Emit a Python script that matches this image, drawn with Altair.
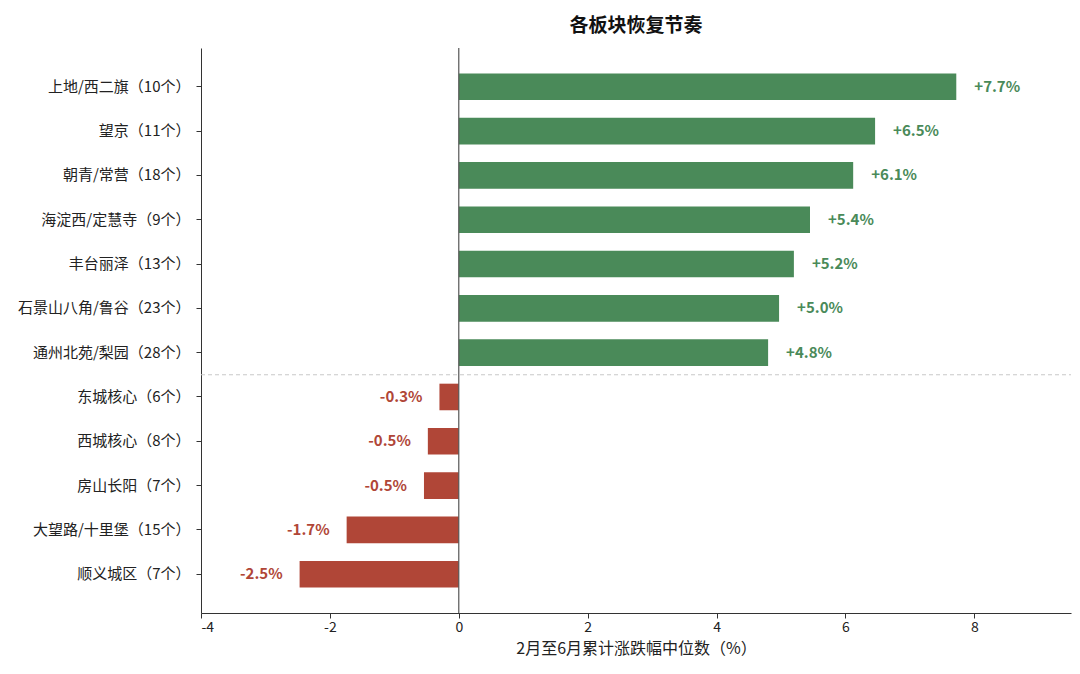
import altair as alt
import pandas as pd

categories = [
    "上地/西二旗（10个）", "望京（11个）", "朝青/常营（18个）", "海淀西/定慧寺（9个）",
    "丰台丽泽（13个）", "石景山八角/鲁谷（23个）", "通州北苑/梨园（28个）",
    "东城核心（6个）", "西城核心（8个）", "房山长阳（7个）", "大望路/十里堡（15个）", "顺义城区（7个）",
]
values = [7.72, 6.46, 6.12, 5.45, 5.2, 4.97, 4.8, -0.3, -0.48, -0.54, -1.74, -2.47]
labels = ["+7.7%", "+6.5%", "+6.1%", "+5.4%", "+5.2%", "+5.0%", "+4.8%",
          "-0.3%", "-0.5%", "-0.5%", "-1.7%", "-2.5%"]
x_ticks = [-4, -2, 0, 2, 4, 6, 8]

GREEN = "#4a8a59"
RED = "#b04637"
FONT = "Noto Sans CJK SC"

df = pd.DataFrame({"cat": categories, "val": values, "lab": labels})
df["sign"] = ["pos" if v >= 0 else "neg" for v in values]

yscale = alt.Scale(domain=categories, paddingInner=0.4, paddingOuter=0.575)
xscale = alt.Scale(domain=[-4, 9.5], nice=False, zero=False)

base = alt.Chart(df)

bars = base.mark_bar().encode(
    y=alt.Y("cat:N", sort=categories, scale=yscale,
            axis=alt.Axis(title=None, labelFontSize=15, labelColor="#222", labelFont=FONT,
                          tickSize=5, tickColor="#333", domainColor="#333", labelPadding=6)),
    x=alt.X("val:Q", scale=xscale,
            axis=alt.Axis(title="2月至6月累计涨跌幅中位数（%）", titleFont=FONT, titleFontSize=16,
                          titleFontWeight="normal", titleColor="#222", titlePadding=6,
                          values=x_ticks, labelExpr="'' + datum.value", labelFontSize=14,
                          labelColor="#222", labelFont=FONT, grid=False, tickSize=5,
                          tickColor="#333", domainColor="#333")),
    color=alt.Color("sign:N", scale=alt.Scale(domain=["pos", "neg"], range=[GREEN, RED]), legend=None),
)

pos_text = base.transform_filter(alt.datum.val >= 0).mark_text(
    align="left", baseline="middle", dx=18, fontWeight="bold", fontSize=15, font=FONT, color=GREEN
).encode(y=alt.Y("cat:N", sort=categories, scale=yscale), x=alt.X("val:Q", scale=xscale), text="lab:N")

neg_text = base.transform_filter(alt.datum.val < 0).mark_text(
    align="right", baseline="middle", dx=-17, fontWeight="bold", fontSize=15, font=FONT, color=RED
).encode(y=alt.Y("cat:N", sort=categories, scale=yscale), x=alt.X("val:Q", scale=xscale), text="lab:N")

zero = alt.Chart(pd.DataFrame({"z": [0]})).mark_rule(color="#555", strokeWidth=1.2).encode(
    x=alt.X("z:Q", scale=xscale)
)

sep = alt.Chart(pd.DataFrame({"cat": ["通州北苑/梨园（28个）"]})).mark_rule(
    color="#c8c8c8", strokeDash=[4, 3], strokeWidth=1, yOffset=22.1
).encode(
    y=alt.Y("cat:N", sort=categories, scale=yscale),
    x=alt.datum(-4, scale=xscale), x2=alt.datum(9.5),
)

chart = alt.layer(bars, zero, sep, pos_text, neg_text).properties(
    width=870, height=565,
    title=alt.TitleParams("各板块恢复节奏", font=FONT, fontSize=19, fontWeight="bold",
                          color="#111", anchor="middle", offset=11),
    padding={"left": 193, "top": 40, "right": 1, "bottom": 60},
    autosize=alt.AutoSizeParams(type="none"),
    view=alt.ViewBackground(stroke="transparent", strokeWidth=0),
).configure_view(stroke="transparent", strokeWidth=0).configure(background="white")

chart.save("out.html", embed_options={"renderer": "svg", "actions": False})
